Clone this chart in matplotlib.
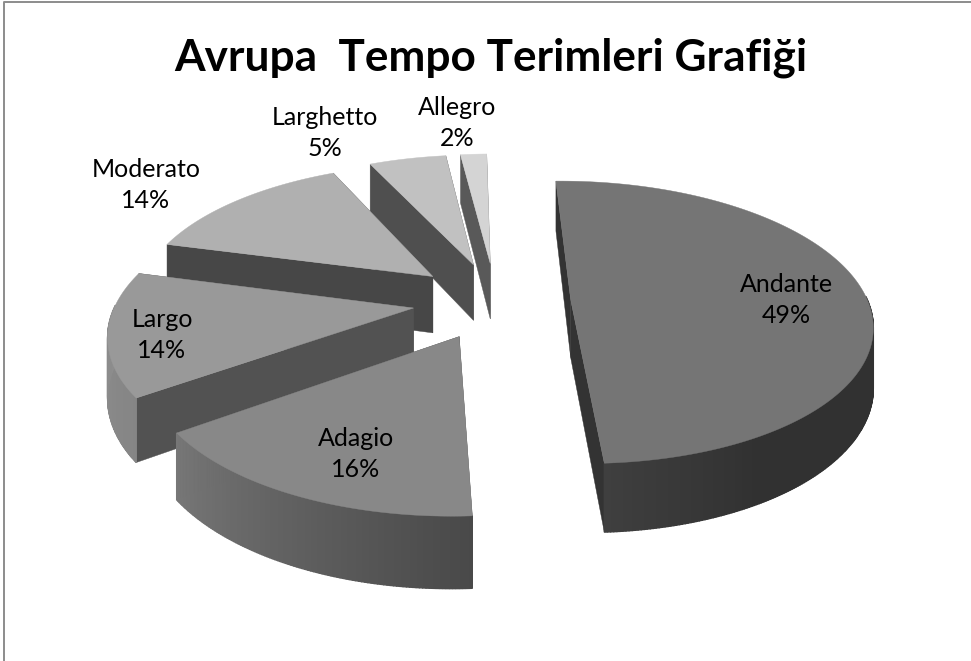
import numpy as np
import matplotlib
matplotlib.use('Agg')
import matplotlib.pyplot as plt
from matplotlib.patches import Polygon

plt.rcParams['font.family'] = ['Lato', 'DejaVu Sans']

title = 'Avrupa  Tempo Terimleri Grafiği'
names = ['Andante', 'Adagio', 'Largo', 'Moderato', 'Larghetto', 'Allegro']
values = [49.4, 16, 14, 13.9, 5, 1.7]
top_grey = [0.46, 0.535, 0.60, 0.69, 0.755, 0.83]
side_grey = [0.20, 0.30, 0.32, 0.28, 0.31, 0.35]
explode = [0.252, 0.275, 0.28, 0.285, 0.285, 0.285]
label_x = [786, 356, 162, 146, 325, 457]
label_y = [300, 454, 335, 185, 133, 123]
draw_order = [5, 4, 3, 2, 1, 0]

# projection of the tilted disc
cx, cy = 496, 301
a, b, k, depth = 297, 138, 0.16, 58
start_angle = -1.0


def project(x, y, z):
    w = 1 + k * y
    return cx + a * x / w, cy - (b * y - depth * z) / w


def wall_shade(th):
    return np.interp(th, [60, 150, 180, 234, 290], [0.42, 0.42, 0.55, 0.87, 0.95])


fig = plt.figure(figsize=(9.71, 6.61), dpi=100)
ax = fig.add_axes([0, 0, 1, 1])
ax.set_xlim(0, 971)
ax.set_ylim(661, 0)
ax.axis('off')

# frame of the chart area
ax.plot([4, 4, 971], [661, 2, 2], color='#8c8c8c', lw=1.4)

edges = start_angle + np.concatenate([[0], np.cumsum(values)]) * 3.6

for i in draw_order:
    t0, t1 = edges[i], edges[i + 1]
    mid = np.radians((t0 + t1) / 2)
    ox, oy = explode[i] * np.sin(mid), explode[i] * np.cos(mid)
    th = np.linspace(t0, t1, max(int(t1 - t0), 3) * 2)
    rx = ox + np.sin(np.radians(th))
    ry = oy + np.cos(np.radians(th))

    # straight cut faces
    for tt in (t0, t1):
        ex = ox + np.sin(np.radians(tt))
        ey = oy + np.cos(np.radians(tt))
        quad = [project(ox, oy, 0), project(ex, ey, 0), project(ex, ey, 1), project(ox, oy, 1)]
        ax.add_patch(Polygon(quad, fc=str(side_grey[i]), ec=str(side_grey[i]), lw=0.3))

    # rounded outer face, only the part turned to the viewer
    for j in range(len(th) - 1):
        m = (th[j] + th[j + 1]) / 2
        if np.cos(np.radians(m)) > 0.02:
            continue
        g = top_grey[i] * wall_shade(m)
        quad = [project(rx[j], ry[j], 0), project(rx[j + 1], ry[j + 1], 0),
                project(rx[j + 1], ry[j + 1], 1), project(rx[j], ry[j], 1)]
        ax.add_patch(Polygon(quad, fc=str(g), ec=str(g), lw=1.0))

    # top face
    top = [project(ox, oy, 0)] + [project(p, q, 0) for p, q in zip(rx, ry)]
    ax.add_patch(Polygon(top, fc=str(top_grey[i]), ec=str(top_grey[i]), lw=0.3))

for n, v, x, y in zip(names, values, label_x, label_y):
    ax.text(x, y, '%s\n%.0f%%' % (n, v), ha='center', va='center', fontsize=18,
            color='black', linespacing=1.39)

ax.text(491, 58, title, ha='center', va='center', fontsize=31.8, fontweight='bold', color='black')

fig.savefig('out.png', dpi=100)
